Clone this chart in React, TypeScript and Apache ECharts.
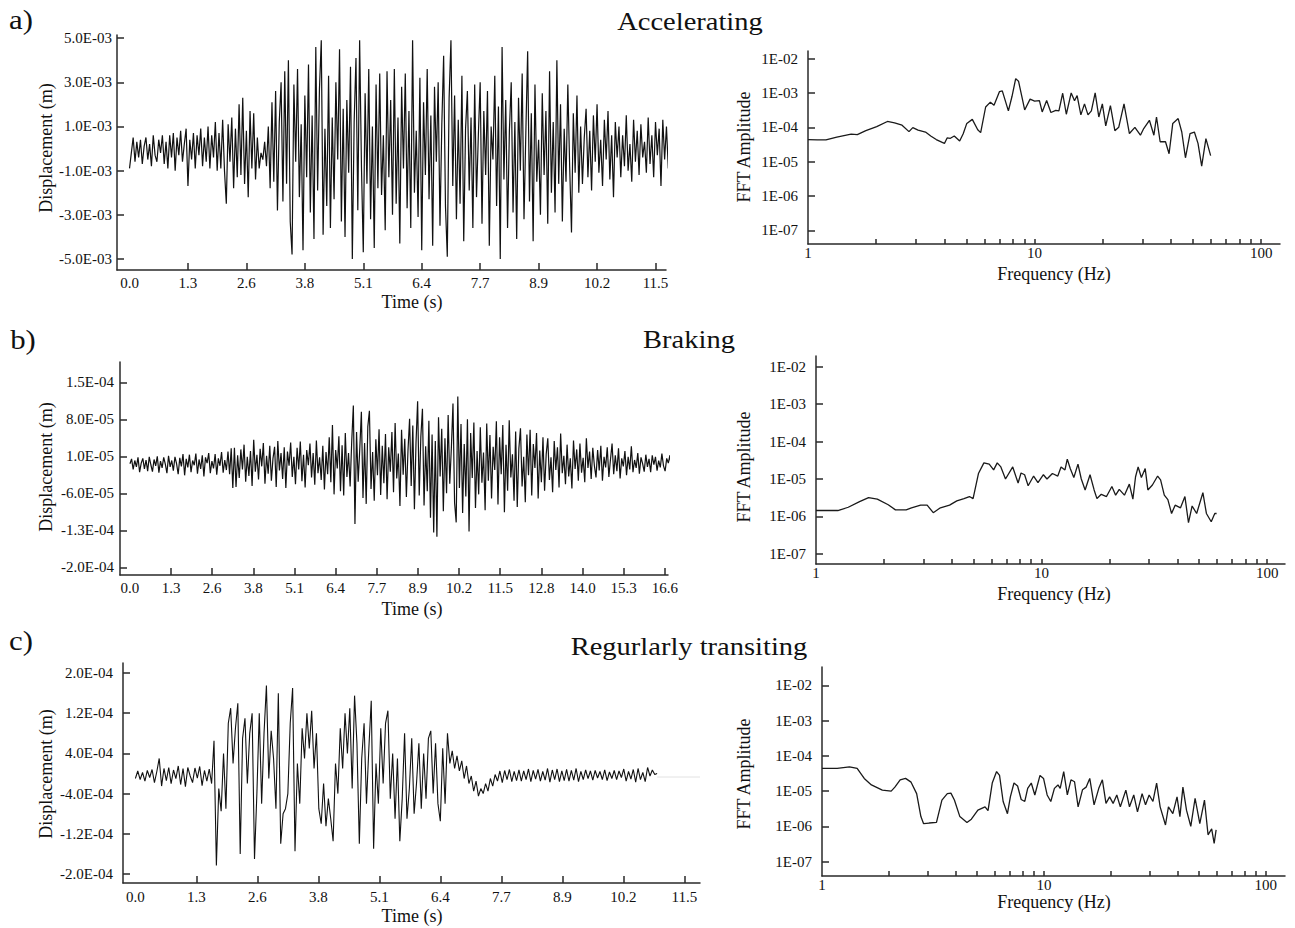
import React, { useEffect, useRef } from "react";
import * as echarts from "echarts";

const FONT = '"Liberation Serif", "Times New Roman", serif';
const INK = "#111";
const AXIS = "#2a2a2a";

// ---------- tick labels ----------
const timeStep = 1.28;
const timeLabelsA = ["0.0", "1.3", "2.6", "3.8", "5.1", "6.4", "7.7", "8.9", "10.2", "11.5"];
const timeLabelsB = ["0.0", "1.3", "2.6", "3.8", "5.1", "6.4", "7.7", "8.9", "10.2", "11.5", "12.8", "14.0", "15.3", "16.6"];
const timeLabelsC = ["0.0", "1.3", "2.6", "3.8", "5.1", "6.4", "7.7", "8.9", "10.2", "11.5"];

// displacement ticks (values in the unit of each panel's data) and their printed labels
const accelYTicks = [-5, -3, -1, 1, 3, 5]; // 1e-3 m
const accelYLabels = ["-5.0E-03", "-3.0E-03", "-1.0E-03", "1.0E-03", "3.0E-03", "5.0E-03"];
const brakeYTicks = [-20, -13, -6, 1, 8, 15]; // 1e-5 m
const brakeYLabels = ["-2.0E-04", "-1.3E-04", "-6.0E-05", "1.0E-05", "8.0E-05", "1.5E-04"];
const transitYTicks = [-2, -1.2, -0.4, 0.4, 1.2, 2]; // 1e-4 m
const transitYLabels = ["-2.0E-04", "-1.2E-04", "-4.0E-04", "4.0E-04", "1.2E-04", "2.0E-04"];

const fftYTicks = [1e-7, 1e-6, 1e-5, 1e-4, 1e-3, 1e-2];
const fftYLabels = ["1E-07", "1E-06", "1E-05", "1E-04", "1E-03", "1E-02"];
const fftXLabelValues = [1, 10, 100];
const fftXTickValues = [2, 3, 4, 5, 6, 7, 8, 9, 10, 20, 30, 40, 50, 60, 70, 80, 90, 100];

// ---------- time histories ----------
const accelDt = 0.04; // s
const accelDisp = [ // 1e-3 m
  -0.9, -0.2, 0.5, -0.6, 0.3, -0.4, 0.4, -0.7, 0.1, 0.5,
  -0.5, 0.2, -0.8, 0.6, -0.3, -0.6, 0.4, -0.2, 0.6, -0.7,
  0.3, -0.9, 0.6, -0.4, 0.7, -1.0, 0.5, -0.3, 0.8, -0.6,
  0.2, 0.9, -1.7, 0.4, -0.5, 0.7, -0.9, 0.6, -0.3, 0.9,
  -0.8, 0.5, -0.6, 1.0, -0.9, 0.6, -0.4, 1.2, -1.0, 0.7,
  -0.9, 1.3, -1.0, -2.5, 1.1, -0.6, 1.4, -1.8, 0.9, -1.3,
  2.0, -1.2, 2.3, -1.6, 0.8, -2.2, 1.7, -0.9, 1.6, -1.4,
  0.5, -0.9, -0.2, -0.5, 0.3, -0.8, 1.0, -1.8, 2.1, -1.5,
  2.6, -2.8, 1.2, 3.0, -2.4, 3.5, -1.6, 4.0, -3.3, -4.8,
  2.9, -0.6, 3.6, -2.2, 1.1, -4.6, 2.4, -1.3, 3.8, -2.9,
  1.5, -4.1, 4.6, -1.9, 2.7, 4.9, -3.9, 0.9, -2.6, 3.3,
  -3.6, 1.4, -2.3, 3.0, -0.5, 4.5, -3.3, 1.8, -4.0, 2.2,
  -1.1, 3.7, -5.0, 1.2, 4.1, -2.8, 4.9, -0.8, -4.7, 2.5,
  -1.6, 3.6, -3.2, 1.0, -4.5, 2.9, -1.8, 3.4, -2.1, 0.6,
  -3.7, 3.5, -1.3, 2.2, -3.0, 3.6, -2.5, 1.4, -4.3, 2.8,
  -0.9, 3.4, -2.7, 1.7, -3.6, 4.9, -2.0, 0.8, -3.1, 3.2,
  -4.6, 2.1, -1.2, 3.6, -2.3, 1.5, -4.4, 2.8, -0.6, 3.0,
  -3.5, 1.1, 4.2, -2.6, -4.9, 2.3, 4.9, -1.7, 2.4, -3.2,
  1.3, -2.5, 3.3, -4.2, 0.9, 2.6, -1.9, 1.4, -3.6, 2.9,
  -2.2, 0.6, 3.0, -3.4, 1.7, -1.2, 2.6, -4.4, 1.0, -0.5,
  3.3, -2.6, 1.9, -5.0, 4.6, -1.4, 2.2, -3.6, 0.8, 3.0,
  -2.9, 1.2, -4.1, 2.3, -1.0, 3.4, -3.2, 0.7, 4.4, -2.4,
  1.6, -4.2, 2.9, -1.5, 0.4, -3.0, 2.5, -1.2, 1.7, -3.4,
  3.5, -2.0, 1.2, -2.9, 4.0, -1.6, 2.0, -3.3, 0.9, -1.5,
  2.9, -0.8, -3.8, 1.6, -1.1, 2.4, -2.0, 1.0, -1.6, 0.5,
  1.8, -1.3, 0.8, -1.9, 1.5, -0.6, 2.0, -1.1, 0.4, -1.7,
  1.3, -0.5, 1.7, -1.4, 0.6, -2.2, 1.2, -0.4, 1.0, -1.3,
  0.6, -0.8, 1.5, -1.0, 0.2, -1.5, 1.3, -0.6, 0.8, -1.2,
  1.1, -0.4, 0.3, -1.1, 1.4, -0.7, 0.6, -1.3, 1.2, -0.3,
  0.9, -1.7, 1.3, -0.5, 1.0, -0.9, 0.6, -0.2, 0.4, -1.0,
];

const brakeDt = 0.05; // s
const brakeDisp = [ // 1e-5 m
  -0.4, 0.5, -1.5, 0.2, -1.0, 0.8, -2.0, -0.3, 0.6, -1.4,
  0.3, -1.8, 0.9, -0.6, -1.9, 0.4, -0.8, 1.0, -2.1, 0.1,
  -1.2, 0.8, -0.5, -2.2, 1.1, -1.0, 0.2, -1.7, 0.9, -0.4,
  -2.4, 0.7, -0.9, 1.4, -2.6, 0.5, -1.1, 1.3, -2.0, 0.2,
  -0.7, 1.5, -2.3, 0.4, -1.4, 1.2, -2.8, 0.8, -0.3, 1.6,
  -2.2, 0.1, -1.3, 1.4, -2.5, 0.6, -0.8, 1.8, -2.1, 0.3,
  -1.6, 1.9, -2.4, 2.5, -5.0, 2.6, -4.8, 1.2, -3.1, 2.3,
  -1.5, 3.2, -3.8, 0.9, -2.7, 2.0, -4.6, 4.1, -1.9, 1.3,
  -3.4, 2.4, -0.9, 3.5, -4.2, 1.1, -2.3, 3.0, -3.6, 0.6,
  2.8, -4.8, 3.9, -1.7, 1.6, -3.3, 2.7, -5.0, 1.9, -0.8,
  3.6, -2.9, 0.9, -4.3, 2.6, -1.5, 3.8, -3.7, 1.3, -4.9,
  2.2, -0.7, 3.4, -3.0, 1.6, -4.4, 4.0, -2.2, 0.8, -3.5,
  3.0, -5.3, 1.8, -2.4, 4.6, -3.9, 6.9, -6.2, 2.2, -1.3,
  4.8, -5.6, 3.1, -6.4, 5.4, -2.9, 1.6, -4.7, 3.9, 10.6,
  -11.8, 5.6, -3.8, 2.4, 9.4, -6.9, 3.5, -8.0, 6.6, 9.6,
  -5.2, 1.8, -7.4, 4.2, -2.6, 6.1, -6.3, 3.0, -4.1, 5.2,
  -7.1, 2.7, -1.9, 5.6, -5.8, 7.3, -3.2, 1.5, -8.4, 6.0,
  -2.5, 4.3, -6.7, 2.1, 8.1, -4.6, 6.8, -9.0, 3.6, 11.4,
  -6.4, 4.7, 10.0, -8.3, 2.9, -5.6, 7.7, -10.6, 5.1, -13.4,
  3.9, -14.2, 8.4, -2.8, 6.2, -9.4, 4.4, -6.0, 8.8, -4.2,
  2.6, 11.0, -7.8, -11.5, 12.3, -5.0, 7.1, -9.7, 3.3, -6.6,
  8.0, -13.2, 5.4, -3.1, 7.4, -8.8, 2.0, -6.2, 6.5, -4.0,
  1.7, -9.2, 7.2, -3.6, 5.0, -7.0, 2.8, -1.6, 7.6, -8.1,
  4.6, -2.4, 6.9, -9.6, 3.2, -5.5, 7.8, -3.0, 1.4, -7.4,
  5.7, -8.6, 2.5, 6.3, -4.7, 0.9, -7.7, 5.1, -2.6, 6.0,
  -6.4, 3.3, -1.2, 5.4, -7.0, 2.1, -3.9, 4.6, -5.5, 1.4,
  4.4, -3.5, 0.8, -5.8, 3.9, -1.6, 2.7, -4.9, 5.3, -2.2,
  1.1, -4.3, 3.2, -2.8, 0.6, -5.1, 4.0, -1.4, 2.3, -3.6,
  3.4, -2.1, 0.7, -3.9, 4.4, -1.2, 1.9, -3.3, 2.6, -0.8,
  -3.0, 2.2, -1.7, 3.0, -3.6, 0.9, -1.1, 2.7, -2.9, 0.4,
  3.4, -2.4, 1.2, -1.8, 2.5, -3.2, 0.6, -0.9, 2.0, -2.6,
  0.9, -1.5, 2.9, -2.0, 0.3, -1.2, 1.6, -2.3, 0.8, -0.4,
  -1.9, 1.3, -1.0, 0.5, -2.0, 1.2, -0.6, 0.9, -1.7, 0.2,
  -1.1, 1.5, -0.8, -1.8, 0.6, -0.3, 1.2, -1.5, 0.4, -0.6,
];

const transitDt = 0.05; // s
const transitDisp = [ // 1e-4 m
  -0.10, 0.05, -0.12, 0.02, -0.15, 0.06, -0.08, 0.08, -0.18, 0.04,
  0.30, -0.25, 0.10, -0.14, 0.12, -0.20, 0.07, -0.10, 0.15, -0.22,
  0.10, -0.26, 0.12, -0.05, -0.18, 0.11, -0.09, 0.14, -0.24, 0.06,
  -0.15, 0.09, -0.20, 0.65, -1.83, -0.30, -0.75, 0.40, -0.70, 1.00,
  1.30, 0.20, 0.90, 1.40, -1.60, 0.70, 1.10, -0.20, 0.80, 1.20,
  -1.70, -0.40, 1.20, -0.60, 0.80, 1.75, -0.10, 0.85, 0.30, -0.70,
  1.60, -1.40, -0.80, -0.70, -0.40, 1.00, 1.70, -1.55, 0.20, -0.60,
  0.90, 0.30, 1.20, 0.50, 1.25, 0.10, 0.80, -0.70, -1.00, -0.20,
  -1.05, -0.50, -0.90, -1.35, 0.20, -0.40, 0.90, 0.10, 1.20, 0.40,
  1.30, -0.30, 1.55, 0.60, -1.40, 0.30, 1.00, -0.60, 0.50, 1.45,
  -1.50, 0.20, -0.60, 0.90, -0.20, 1.00, 1.25, -0.50, 0.40, -0.90,
  0.30, -1.35, -0.50, 0.80, -0.90, -0.30, 0.70, -0.80, -0.20, 0.60,
  -0.70, 0.40, -0.50, 0.70, 0.85, -0.40, 0.60, -0.60, -0.95, 0.50,
  -0.60, 0.80, 0.20, 0.45, 0.10, 0.35, 0.05, 0.25, -0.10, 0.15,
  -0.20, -0.05, -0.35, -0.15, -0.45, -0.30, -0.40, -0.20, -0.35, -0.10,
  -0.25, -0.02, -0.15, 0.05, -0.18, 0.06, -0.12, 0.08, -0.16, 0.04,
  -0.14, 0.07, -0.15, 0.05, -0.12, 0.09, -0.16, 0.06, -0.11, 0.08,
  -0.15, 0.04, -0.13, 0.10, -0.17, 0.07, -0.12, 0.09, -0.16, 0.05,
  -0.14, 0.08, -0.15, 0.06, -0.13, 0.10, -0.16, 0.04, -0.12, 0.07,
  -0.10, 0.05, -0.13, 0.06, -0.09, 0.04, -0.12, 0.07, -0.14, 0.03,
  -0.10, 0.06, -0.12, 0.05, -0.08, 0.09, -0.15, 0.04, -0.11, 0.08,
  -0.17, 0.10, -0.12, 0.02, -0.16, 0.12, -0.05, 0.07, -0.02, 0.00,
];
// faint continuation line after the end of record c
const transitTail = [[10.95, -0.07], [11.85, -0.07]];

// ---------- FFT spectra ----------
const accelFftFreq = [1.0, 1.1, 1.2, 1.34, 1.55, 1.65, 1.8, 2.01, 2.24, 2.41, 2.6, 2.79, 2.9, 3.06, 3.3, 3.48, 3.68, 3.89, 4.0, 4.11, 4.25, 4.42, 4.67, 4.84, 5.02, 5.31, 5.61, 5.78, 6.08, 6.38, 6.62, 7.0, 7.2, 7.66, 7.95, 8.25, 8.49, 8.78, 9.04, 9.55, 10.0, 10.5, 10.8, 11.3, 11.8, 12.4, 12.8, 13.3, 13.8, 14.5, 15.0, 15.4, 16.0, 16.6, 17.2, 17.8, 18.5, 19.2, 19.9, 20.6, 21.6, 22.6, 23.5, 24.8, 26.2, 27.7, 29.3, 30.3, 32.1, 33.6, 34.5, 35.8, 37.8, 39.2, 40.7, 43.0, 44.6, 46.3, 48.5, 50.7, 52.6, 54.6, 57.0, 59.8];
const accelFftAmp = [4.4e-5, 4.3e-5, 4.3e-5, 5.2e-5, 6.3e-5, 6.1e-5, 8.0e-5, 1.05e-4, 1.48e-4, 1.35e-4, 1.15e-4, 7.5e-5, 9.8e-5, 8.3e-5, 7.3e-5, 5.6e-5, 4.4e-5, 3.7e-5, 3.4e-5, 4.9e-5, 4.8e-5, 5.6e-5, 4.0e-5, 6.5e-5, 1.3e-4, 1.7e-4, 8.5e-5, 7.0e-5, 3.9e-4, 5.4e-4, 4.4e-4, 1.1e-3, 1.15e-3, 3.0e-4, 8.0e-4, 2.6e-3, 2.2e-3, 8.0e-4, 3.2e-4, 6.6e-4, 5.8e-4, 6.0e-4, 2.8e-4, 6.0e-4, 2.7e-4, 3.1e-4, 3.0e-4, 9.8e-4, 2.4e-4, 1.0e-3, 5.9e-4, 8.4e-4, 2.3e-4, 4.8e-4, 2.3e-4, 3.0e-4, 1.0e-3, 2.0e-4, 4.8e-4, 1.1e-4, 4.3e-4, 8.0e-5, 1.0e-4, 4.8e-4, 6.6e-5, 1.0e-4, 5.9e-5, 9.2e-5, 1.6e-4, 5.9e-5, 2.0e-4, 3.8e-5, 3.8e-5, 1.7e-5, 1.3e-4, 1.8e-4, 7.3e-5, 1.3e-5, 6.6e-5, 7.3e-5, 3.4e-5, 7.4e-6, 4.7e-5, 1.5e-5];

const brakeFftFreq = [1.0, 1.25, 1.39, 1.56, 1.71, 1.87, 2.09, 2.25, 2.51, 2.65, 2.91, 3.11, 3.31, 3.56, 3.91, 4.21, 4.53, 4.79, 4.97, 5.25, 5.55, 5.86, 6.13, 6.36, 6.6, 6.92, 7.45, 7.87, 8.11, 8.41, 8.72, 9.22, 9.64, 10.19, 10.57, 11.17, 11.8, 12.2, 12.7, 13.0, 13.4, 13.9, 14.5, 15.0, 15.6, 16.4, 17.1, 17.6, 18.4, 19.4, 20.5, 21.3, 22.1, 23.3, 24.5, 25.4, 26.1, 26.8, 27.7, 28.8, 29.6, 31.0, 32.7, 33.7, 35.0, 36.3, 37.7, 39.1, 41.3, 43.2, 44.8, 46.5, 48.7, 51.9, 53.8, 56.5, 58.6, 59.7];
const brakeFftAmp = [1.44e-6, 1.44e-6, 1.76e-6, 2.5e-6, 3.2e-6, 2.9e-6, 2.05e-6, 1.5e-6, 1.5e-6, 1.7e-6, 2.0e-6, 2.0e-6, 1.26e-6, 1.7e-6, 2.0e-6, 2.6e-6, 3.0e-6, 3.4e-6, 3.0e-6, 1.4e-5, 2.7e-5, 2.5e-5, 1.75e-5, 2.7e-5, 2.1e-5, 1.0e-5, 2.1e-5, 7.8e-6, 1.45e-5, 1.3e-5, 6.6e-6, 1.2e-5, 8.0e-6, 1.3e-5, 1.0e-5, 1.4e-5, 1.2e-5, 2.1e-5, 1.75e-5, 3.4e-5, 1.9e-5, 1.1e-5, 2.5e-5, 1.0e-5, 5.1e-6, 1.3e-5, 5.1e-6, 3.0e-6, 3.9e-6, 3.4e-6, 6.3e-6, 3.7e-6, 5.3e-6, 3.7e-6, 7.3e-6, 2.9e-6, 1.15e-5, 2.1e-5, 1.1e-5, 1.9e-5, 5.1e-6, 6.9e-6, 1.2e-5, 9.5e-6, 3.7e-6, 2.8e-6, 1.2e-6, 2.0e-6, 1.7e-6, 3.4e-6, 6.8e-7, 1.9e-6, 1.2e-6, 4.3e-6, 1.2e-6, 7.2e-7, 1.2e-6, 1.2e-6];

const transitFftFreq = [1.0, 1.17, 1.33, 1.44, 1.55, 1.67, 1.87, 2.05, 2.13, 2.25, 2.38, 2.52, 2.67, 2.79, 2.87, 3.04, 3.28, 3.47, 3.67, 3.81, 3.95, 4.18, 4.5, 4.71, 5.04, 5.43, 5.6, 5.85, 6.12, 6.31, 6.55, 6.85, 7.06, 7.33, 7.61, 7.9, 8.2, 8.45, 8.77, 9.1, 9.6, 9.96, 10.34, 10.74, 11.15, 11.57, 11.84, 12.28, 12.75, 13.24, 13.74, 14.26, 14.93, 15.49, 16.09, 16.83, 17.67, 18.34, 19.04, 19.77, 20.5, 21.3, 22.1, 23.4, 24.3, 25.4, 26.4, 27.7, 28.7, 29.8, 31.0, 32.2, 33.4, 35.3, 36.4, 38.1, 39.8, 41.0, 42.3, 43.9, 45.9, 48.0, 50.4, 52.9, 54.9, 57.0, 58.5, 59.7];
const transitFftAmp = [4.4e-5, 4.4e-5, 4.9e-5, 4.4e-5, 2.3e-5, 1.5e-5, 1.07e-5, 1.0e-5, 1.3e-5, 2.1e-5, 2.3e-5, 1.8e-5, 8.5e-6, 1.9e-6, 1.2e-6, 1.25e-6, 1.3e-6, 5.6e-6, 8.5e-6, 8.8e-6, 5.6e-6, 1.9e-6, 1.3e-6, 1.6e-6, 2.9e-6, 3.6e-6, 2.8e-6, 1.7e-5, 3.6e-5, 2.8e-5, 5.1e-6, 2.3e-6, 6.9e-6, 1.7e-5, 1.4e-5, 5.8e-6, 5.1e-6, 1.2e-5, 1.7e-5, 7.8e-6, 2.8e-5, 2.3e-5, 7.8e-6, 5.1e-6, 1.2e-5, 1.5e-5, 1.2e-5, 3.6e-5, 7.8e-6, 2.1e-5, 1.85e-5, 3.6e-6, 1.1e-5, 1.3e-5, 2.3e-5, 4.1e-6, 1.2e-5, 2.1e-5, 4.5e-6, 6.9e-6, 4.5e-6, 7.8e-6, 3.6e-6, 1.07e-5, 3.6e-6, 7.8e-6, 2.6e-6, 8.5e-6, 4.1e-6, 7.8e-6, 5.1e-6, 1.7e-5, 3.6e-6, 1.1e-6, 3.6e-6, 2.3e-6, 6.9e-6, 1.9e-6, 1.3e-5, 2.9e-6, 1.0e-6, 6.3e-6, 1.2e-6, 5.6e-6, 5.8e-7, 8.5e-7, 3.3e-7, 8.0e-7];

// ---------- helpers ----------
const labelStyle = { fontFamily: FONT, fontSize: 15, color: INK };
const lineAxis = { show: true, onZero: false, lineStyle: { color: AXIS, width: 1.5 } };
const tickStyle = { color: AXIS, width: 1.5 };

function pickLabel(ticks: number[], labels: string[], v: number) {
  const i = ticks.findIndex((t) => Math.abs(t - v) < 1e-6);
  return i >= 0 ? labels[i] : "";
}

function timeXAxis(gridIndex: number, min: number, max: number, labels: string[], margin: number) {
  const labelVals = labels.map((_, i) => i * timeStep);
  return {
    type: "value", gridIndex, min, max,
    axisLine: lineAxis,
    axisTick: { show: true, inside: true, length: 7, lineStyle: tickStyle, customValues: labelVals.slice(1) },
    axisLabel: { ...labelStyle, margin, customValues: labelVals, formatter: (v: number) => labels[Math.round(v / timeStep)] ?? "" },
    splitLine: { show: false },
  };
}

function dispYAxis(gridIndex: number, min: number, max: number, ticks: number[], labels: string[], margin: number) {
  return {
    type: "value", gridIndex, min, max,
    axisLine: lineAxis,
    axisTick: { show: true, inside: true, length: 7, lineStyle: tickStyle, customValues: ticks },
    axisLabel: { ...labelStyle, margin, customValues: ticks, formatter: (v: number) => pickLabel(ticks, labels, v) },
    splitLine: { show: false },
  };
}

function fftXAxis(gridIndex: number, max: number) {
  return {
    type: "log", logBase: 10, gridIndex, min: 1, max,
    axisLine: lineAxis,
    axisTick: { show: true, inside: true, length: 5, lineStyle: tickStyle, customValues: fftXTickValues },
    axisLabel: { ...labelStyle, margin: 1, customValues: fftXLabelValues, formatter: (v: number) => String(Math.round(v)) },
    splitLine: { show: false },
    minorTick: { show: false },
  };
}

function fftYAxis(gridIndex: number, logMin: number, logMax: number) {
  return {
    type: "log", logBase: 10, gridIndex, min: Math.pow(10, logMin), max: Math.pow(10, logMax),
    axisLine: lineAxis,
    axisTick: { show: true, inside: true, length: 7, lineStyle: tickStyle, customValues: fftYTicks },
    axisLabel: {
      ...labelStyle, margin: 10, customValues: fftYTicks,
      formatter: (v: number) => {
        const i = fftYTicks.findIndex((t) => Math.abs(Math.log10(t) - Math.log10(v)) < 1e-6);
        return i >= 0 ? fftYLabels[i] : "";
      },
    },
    splitLine: { show: false },
  };
}

function timeSeries(idx: number, values: number[], dt: number, width: number) {
  return {
    type: "line", xAxisIndex: idx, yAxisIndex: idx, symbol: "none", silent: true, clip: false,
    lineStyle: { color: INK, width },
    data: values.map((v, i) => [Number((i * dt).toFixed(3)), v]),
  };
}

function fftSeries(idx: number, freq: number[], amp: number[]) {
  return {
    type: "line", xAxisIndex: idx, yAxisIndex: idx, symbol: "none", silent: true,
    lineStyle: { color: "#1a1a1a", width: 1.3 },
    data: freq.map((f, i) => [f, amp[i]]),
  };
}

function txt(text: string, x: number, y: number, size: number, opts: any = {}) {
  return {
    type: "text", x, y, silent: true, ...opts,
    style: { text, fontFamily: FONT, fontSize: size, fill: INK, textAlign: "center", textVerticalAlign: "middle" },
  };
}

export default function App() {
  const ref = useRef<HTMLDivElement>(null);

  useEffect(() => {
    if (!ref.current) return;
    const chart = echarts.init(ref.current, undefined, { renderer: "svg" });

    const option: any = {
      animation: false,
      backgroundColor: "#ffffff",
      grid: [
        { left: 117, top: 35, width: 549, height: 235 },
        { left: 120, top: 362, width: 548, height: 213 },
        { left: 123, top: 663, width: 577, height: 220 },
        { left: 808, top: 51, width: 472, height: 193 },
        { left: 816, top: 356, width: 469, height: 208 },
        { left: 822, top: 667, width: 463, height: 209 },
      ],
      xAxis: [
        timeXAxis(0, -0.274, 11.75, timeLabelsA, 5),
        timeXAxis(1, -0.31, 16.74, timeLabelsB, 5),
        timeXAxis(2, -0.26, 11.85, timeLabelsC, 6),
        fftXAxis(3, 121),
        fftXAxis(4, 120),
        fftXAxis(5, 122),
      ],
      yAxis: [
        dispYAxis(0, -5.5, 5.14, accelYTicks, accelYLabels, 5),
        dispYAxis(1, -21.45, 18.83, brakeYTicks, brakeYLabels, 6),
        dispYAxis(2, -2.18, 2.2, transitYTicks, transitYLabels, 10),
        fftYAxis(3, -7.394, -1.78),
        fftYAxis(4, -7.27, -1.715),
        fftYAxis(5, -7.405, -1.48),
      ],
      series: [
        timeSeries(0, accelDisp, accelDt, 1.2),
        timeSeries(1, brakeDisp, brakeDt, 1.2),
        timeSeries(2, transitDisp, transitDt, 1.1),
        {
          type: "line", xAxisIndex: 2, yAxisIndex: 2, symbol: "none", silent: true,
          lineStyle: { color: "#e2e2e2", width: 1 }, data: transitTail,
        },
        fftSeries(3, accelFftFreq, accelFftAmp),
        fftSeries(4, brakeFftFreq, brakeFftAmp),
        fftSeries(5, transitFftFreq, transitFftAmp),
      ],
      graphic: [
        txt("a)", 21, 19, 28, { scaleX: 1.1 }),
        txt("b)", 23, 339, 28, { scaleX: 1.1 }),
        txt("c)", 21, 640, 28, { scaleX: 1.1 }),
        txt("Accelerating", 690, 22, 25, { scaleX: 1.14 }),
        txt("Braking", 689, 340, 25, { scaleX: 1.14 }),
        txt("Regurlarly transiting", 689, 647, 25, { scaleX: 1.14 }),
        txt("Displacement (m)", 46, 148, 18, { rotation: Math.PI / 2 }),
        txt("Displacement (m)", 46, 467, 18, { rotation: Math.PI / 2 }),
        txt("Displacement (m)", 46, 774, 18, { rotation: Math.PI / 2 }),
        txt("Time (s)", 412, 302, 18),
        txt("Time (s)", 412, 609, 18),
        txt("Time (s)", 412, 916, 18),
        txt("FFT Amplitude", 744, 147, 18, { rotation: Math.PI / 2 }),
        txt("FFT Amplitude", 744, 467, 18, { rotation: Math.PI / 2 }),
        txt("FFT Amplitude", 744, 774, 18, { rotation: Math.PI / 2 }),
        txt("Frequency (Hz)", 1054, 274, 18),
        txt("Frequency (Hz)", 1054, 594, 18),
        txt("Frequency (Hz)", 1054, 902, 18),
      ],
    };

    chart.setOption(option);
    return () => chart.dispose();
  }, []);

  return (
    <div
      ref={ref}
      style={{ position: "absolute", left: 0, top: 0, width: 1295, height: 928, background: "#fff" }}
    />
  );
}
